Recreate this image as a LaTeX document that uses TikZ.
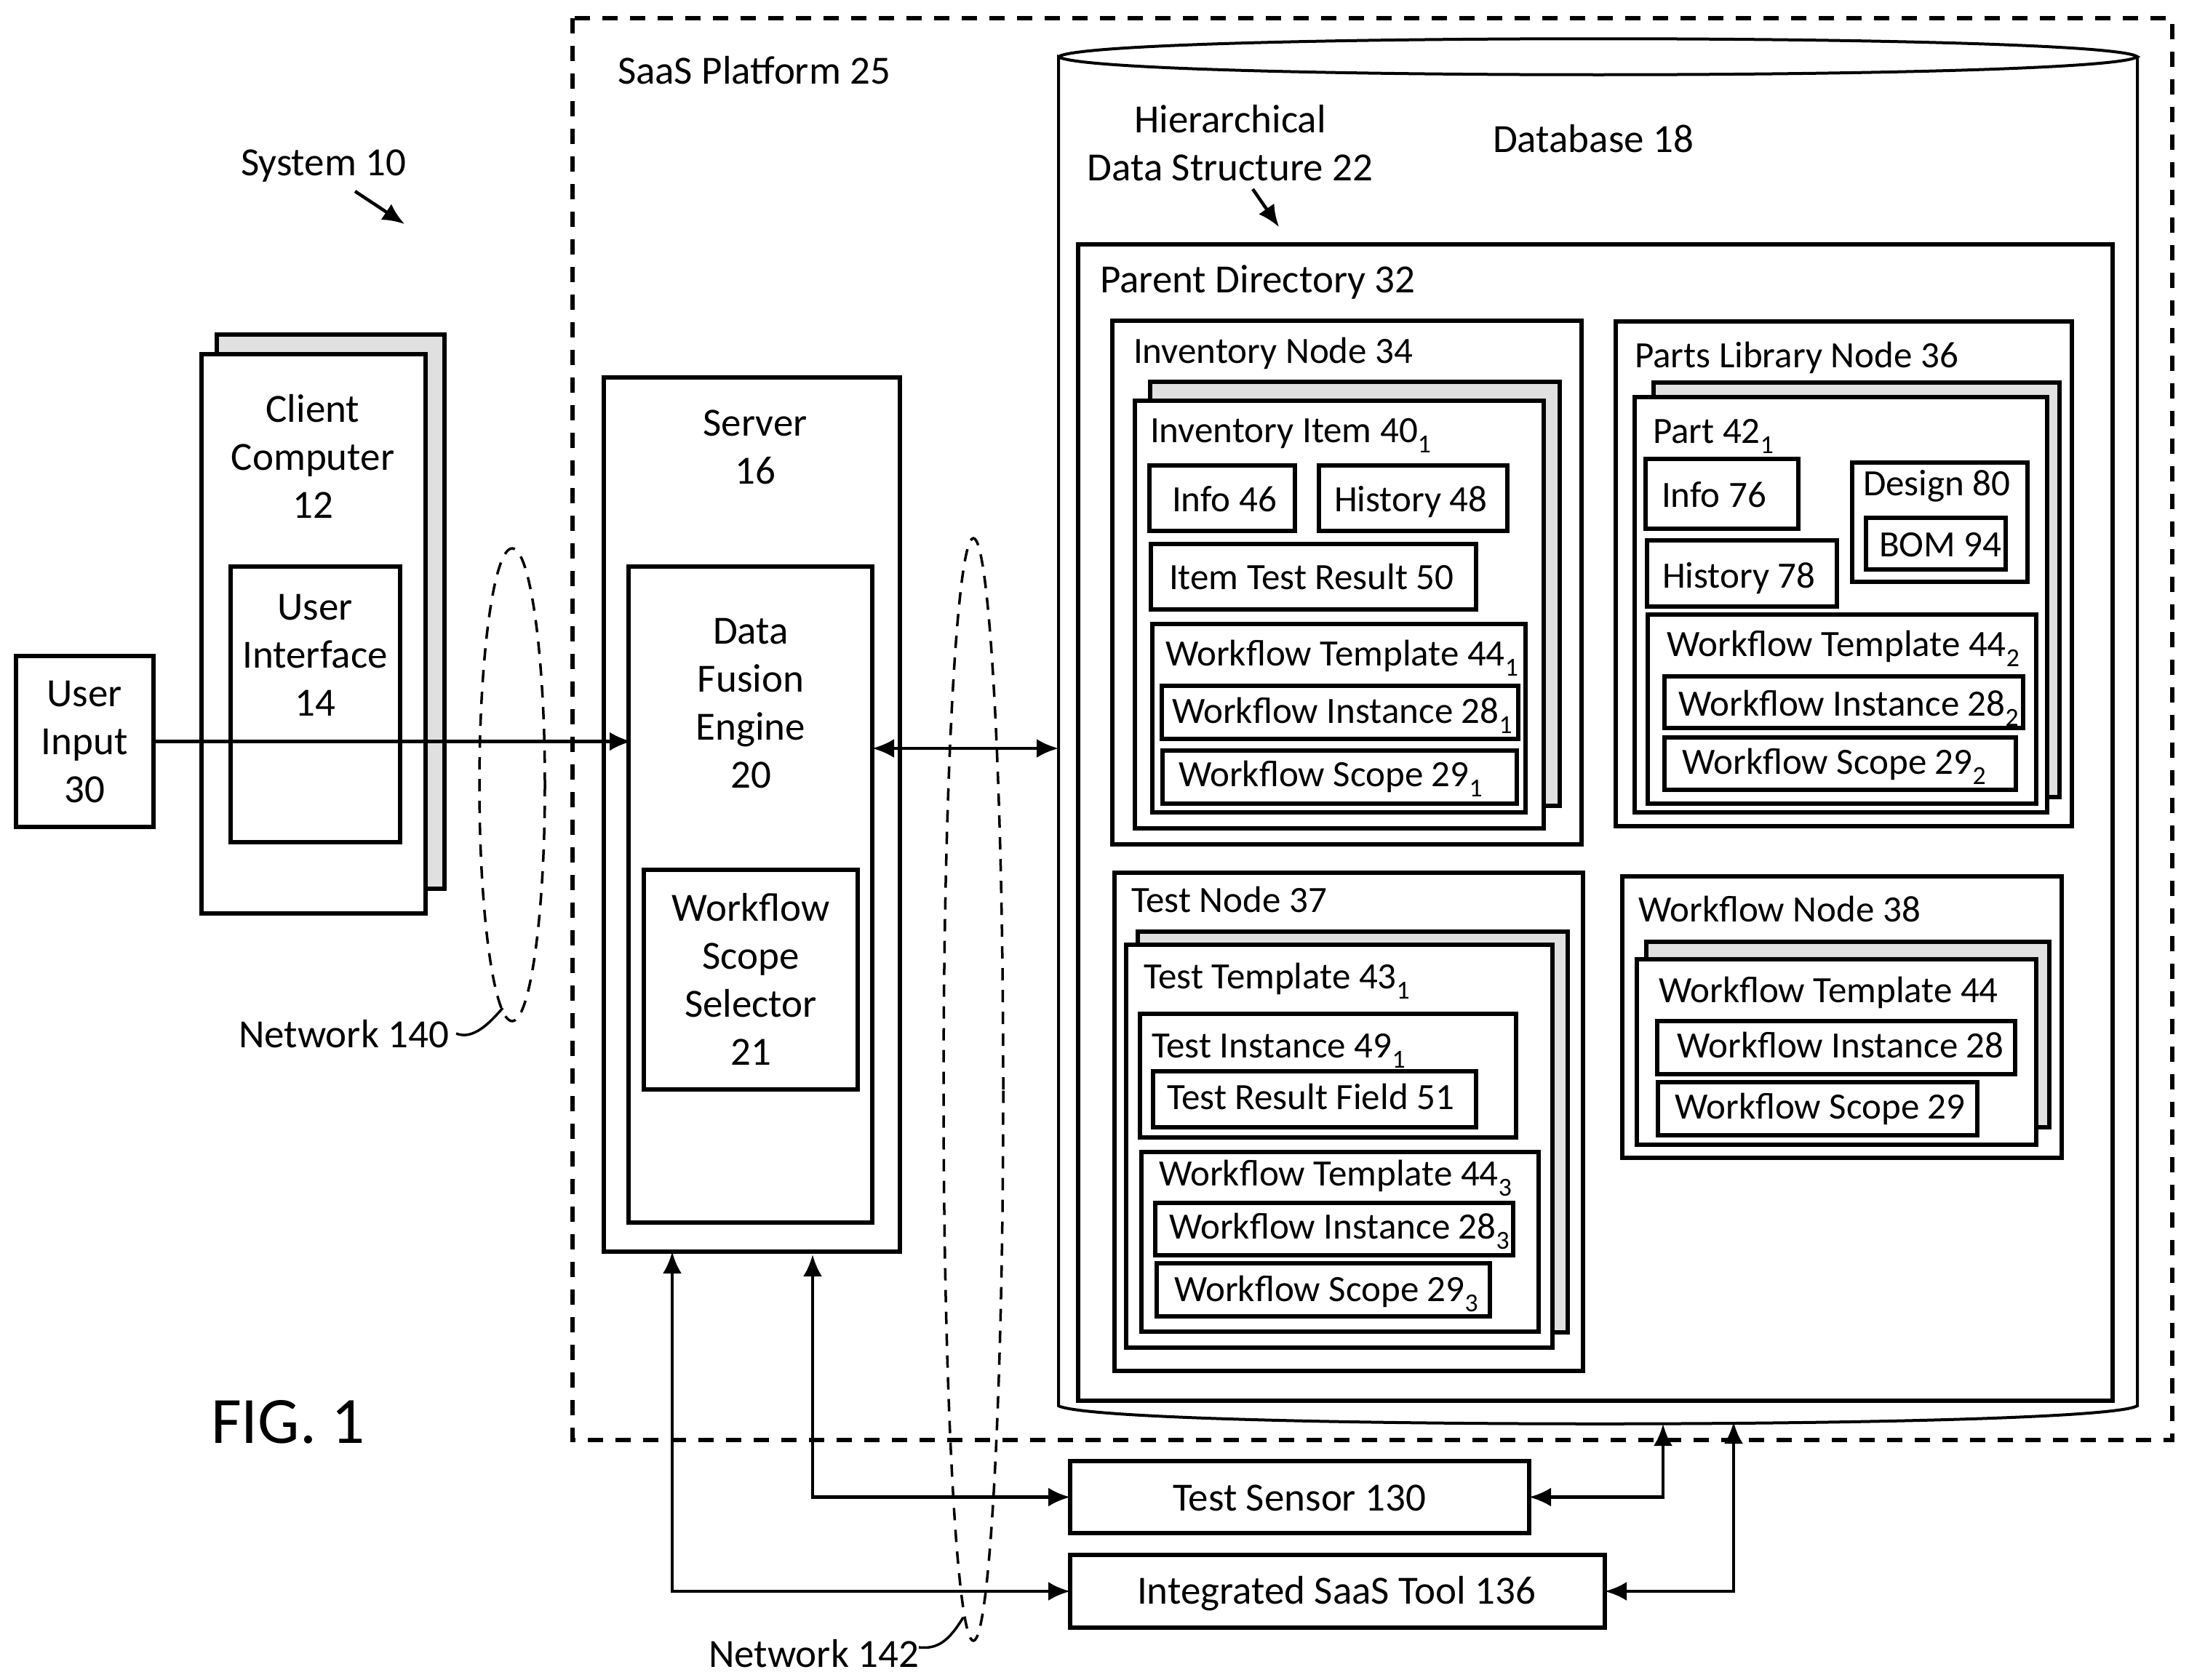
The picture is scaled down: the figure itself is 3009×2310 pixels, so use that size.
\documentclass[tikz,border=0pt]{standalone}
\usepackage{fontspec}
\setmainfont{Carlito}
\usetikzlibrary{positioning,fit,arrows.meta,shapes.geometric}

\tikzset{
	plainbox/.style={draw=black, line width=6pt, fill=white, inner sep=0pt, outer sep=0pt},
	stackbox/.style={plainbox, fill=black!12},
	lbl/.style={inner sep=0pt, outer sep=0pt, anchor=base west, yshift=-2pt, font=\fontsize{51}{66}\selectfont},
	biglbl/.style={lbl, font=\fontsize{55}{66}\selectfont},
	midlbl/.style={inner sep=0pt, outer sep=0pt, align=center, font=\fontsize{55}{66}\selectfont},
	link/.style={line width=4.5pt, -{Latex[length=30pt,width=26pt]}},
	duplink/.style={line width=4.5pt, {Latex[length=30pt,width=26pt]}-{Latex[length=30pt,width=26pt]}},
	netring/.style={draw=black, ellipse, line width=3.5pt, dash pattern=on 17pt off 13pt, inner sep=0pt, outer sep=0pt},
	leader/.style={line width=3.5pt}
}
\newcommand{\bx}[6][plainbox]{\node[#1, fit={(#3,#4) (#5,#6)}] (#2) {};}
\newcommand{\lb}[5][lbl]{\node[#1] (#2) at (#3,#4) {#5};}
\newcommand{\sbs}[1]{\textsubscript{#1}}

\begin{document}
\begin{tikzpicture}[x=1pt, y=-1pt]
	\useasboundingbox (0,0) rectangle (3009,2310);
	\draw [line width=6pt, dash pattern=on 21pt off 17pt] (787,25) rectangle (2986,1980);
	\lb[biglbl]{platforml}{849}{113}{SaaS Platform 25}
	\lb[biglbl]{systeml}{331}{239}{System 10}
	\coordinate (systail) at (488,263);
	\coordinate (systip) at (556,308);
	\draw [link] (systail) -- (systip);
	\lb[biglbl]{figl}{290}{1982}{\fontsize{91}{100}\selectfont FIG. 1}
	% left side
	\bx{inputbox}{22}{902}{211}{1137}
	\node[midlbl] (inputl) at (116,1020) {User\\Input\\30};
	\bx[stackbox]{clientback}{298}{460}{611}{1222}
	\bx{clientbox}{277}{487}{585}{1256}
	\node[midlbl] (clientl) at (430,627) {Client\\Computer\\12};
	\bx{uibox}{317}{779}{550}{1158}
	\node[midlbl] (uil) at (433,901) {User\\Interface\\14};
	% server
	\bx{serverbox}{830}{519}{1237}{1721}
	\node[midlbl] (serverl) at (1038,615) {Server\\16};
	\bx{enginebox}{864}{779}{1199}{1681}
	\node[midlbl] (enginel) at (1032,967) {Data\\Fusion\\Engine\\20};
	\bx{selectbox}{885}{1196}{1179}{1498}
	\node[midlbl] (selectl) at (1032,1346) {Workflow\\Scope\\Selector\\21};
	% database
	\draw [line width=4pt, fill=white] (1455,78) .. controls (1500,45) and (2895,45) .. (2938,78)
		.. controls (2895,111) and (1500,111) .. (1455,78) -- (1455,1933)
		.. controls (1520,1966) and (2880,1966) .. (2938,1933) -- (2938,78);
	\coordinate (dbleft) at (1455,1029);
	\coordinate (dbtipa) at (2286,1958);
	\coordinate (dbtipb) at (2383,1955);
	\lb[biglbl]{dbl}{2052}{207}{Database 18}
	\node[midlbl] (hdsl) at (1691,197) {Hierarchical\\Data Structure 22};
	\coordinate (hdstail) at (1722,260);
	\coordinate (hdstip) at (1758,312);
	\draw [link] (hdstail) -- (hdstip);
	\bx{parentbox}{1482}{336}{2904}{1926}
	\lb[biglbl]{parentl}{1512}{400}{Parent Directory 32}
	\begin{scope}[xshift=-5pt]
	% inventory node
	\bx{invnode}{1534}{441}{2179}{1161}
	\lb{invnodel}{1563}{497}{Inventory Node 34}
	\bx[stackbox]{invback}{1586}{525}{2149}{1108}
	\bx{invitem}{1565}{551}{2127}{1139}
	\lb{invitemL}{1586}{606}{Inventory Item 40\sbs{1}}
	\bx{invinfo}{1585}{640}{1785}{730}
	\lb{invinfol}{1616}{701}{Info 46}
	\bx{invhist}{1818}{640}{2077}{730}
	\lb{invhistl}{1839}{701}{History 48}
	\bx{invtest}{1587}{748}{2034}{838}
	\lb{invtestl}{1612}{808}{Item Test Result 50}
	\bx{invwt}{1589}{858}{2102}{1117}
	\lb{invwtl}{1607}{913}{Workflow Template 44\sbs{1}}
	\bx{invwi}{1602}{943}{2092}{1016}
	\lb{invwil}{1616}{992}{Workflow Instance 28\sbs{1}}
	\bx{invws}{1603}{1032}{2090}{1105}
	\lb{invwsl}{1625}{1079}{Workflow Scope 29\sbs{1}}
	% parts library node
	\bx{partnode}{2226}{442}{2853}{1136}
	\lb{partnodel}{2252}{503}{Parts Library Node 36}
	\bx[stackbox]{partback}{2278}{526}{2836}{1096}
	\bx{partitem}{2252}{546}{2819}{1117}
	\lb{partiteml}{2277}{607}{Part 42\sbs{1}}
	\bx{partinfo}{2267}{631}{2477}{727}
	\lb{partinfol}{2289}{695}{Info 76}
	\bx{partdesign}{2551}{636}{2792}{800}
	\lb{partdesignl}{2566}{679}{Design 80}
	\bx{partbom}{2570}{712}{2762}{783}
	\lb{partboml}{2588}{763}{BOM 94}
	\bx{parthist}{2269}{743}{2530}{834}
	\lb{parthistl}{2290}{806}{History 78}
	\bx{partwt}{2270}{845}{2804}{1105}
	\lb{partwtl}{2296}{900}{Workflow Template 44\sbs{2}}
	\bx{partwi}{2293}{930}{2786}{1001}
	\lb{partwil}{2312}{982}{Workflow Instance 28\sbs{2}}
	\bx{partws}{2293}{1014}{2776}{1086}
	\lb{partwsl}{2317}{1062}{Workflow Scope 29\sbs{2}}
	% test node
	\bx{testnode}{1537}{1200}{2181}{1885}
	\lb{testnodel}{1560}{1252}{Test Node 37}
	\bx[stackbox]{testback}{1569}{1281}{2160}{1832}
	\bx{testtmpl}{1553}{1299}{2139}{1853}
	\lb{testtmpll}{1577}{1357}{Test Template 43\sbs{1}}
	\bx{testinst}{1572}{1394}{2089}{1564}
	\lb{testinstl}{1588}{1452}{Test Instance 49\sbs{1}}
	\bx{testres}{1590}{1473}{2034}{1550}
	\lb{testresl}{1609}{1523}{Test Result Field 51}
	\bx{testwt}{1574}{1584}{2120}{1831}
	\lb{testwtl}{1598}{1628}{Workflow Template 44\sbs{3}}
	\bx{testwi}{1593}{1654}{2085}{1726}
	\lb{testwil}{1612}{1701}{Workflow Instance 28\sbs{3}}
	\bx{testws}{1595}{1737}{2053}{1810}
	\lb{testwsl}{1619}{1787}{Workflow Scope 29\sbs{3}}
	% workflow node
	\bx{flownode}{2235}{1205}{2839}{1592}
	\lb{flownodel}{2257}{1265}{Workflow Node 38}
	\bx[stackbox]{flowback}{2268}{1295}{2822}{1550}
	\bx{flowtmpl}{2255}{1319}{2804}{1574}
	\lb{flowtmpll}{2285}{1376}{Workflow Template 44}
	\bx{flowwi}{2283}{1404}{2775}{1477}
	\lb{flowwil}{2310}{1452}{Workflow Instance 28}
	\bx{flowws}{2284}{1488}{2723}{1561}
	\lb{flowwsl}{2307}{1536}{Workflow Scope 29}
	\end{scope}
	% bottom boxes
	\bx{sensorbox}{1471}{2009}{2102}{2108}
	\lb[biglbl]{sensorl}{1612}{2075}{Test Sensor 130}
	\bx{toolbox}{1471}{2138}{2206}{2238}
	\lb[biglbl]{tooll}{1563}{2203}{Integrated SaaS Tool 136}
	% connectors
	\coordinate (srvtipa) at (924,1721);
	\coordinate (srvtipb) at (1117,1725);
	\draw [link, shorten >=-4pt] (inputbox.east) -- (enginebox.west |- inputbox.east);
	\draw [duplink] (enginebox.east |- dbleft) -- (dbleft);
	\draw [duplink] (sensorbox.west) -| (srvtipb);
	\draw [duplink] (toolbox.west) -| (srvtipa);
	\draw [duplink] (sensorbox.east) -| (dbtipa);
	\draw [duplink] (toolbox.east) -| (dbtipb);
	% networks
	\node[netring, minimum width=90pt, minimum height=650pt] (net140) at (704,1079) {};
	\node[netring, minimum width=82pt, minimum height=1516pt] (net142) at (1338,1498) {};
	\lb[biglbl]{net140l}{328}{1438}{Network 140}
	\lb[biglbl]{net142l}{974}{2290}{Network 142}
	\coordinate (net140end) at (691,1386);
	\coordinate (net142end) at (1324,2224);
	\draw [leader] (net140l.east) ++(10,0) .. controls (650,1430) and (672,1408) .. (net140end);
	\draw [leader] (net142l.east) ++(0,-8) .. controls (1290,2268) and (1305,2255) .. (net142end);
\end{tikzpicture}
\end{document}
